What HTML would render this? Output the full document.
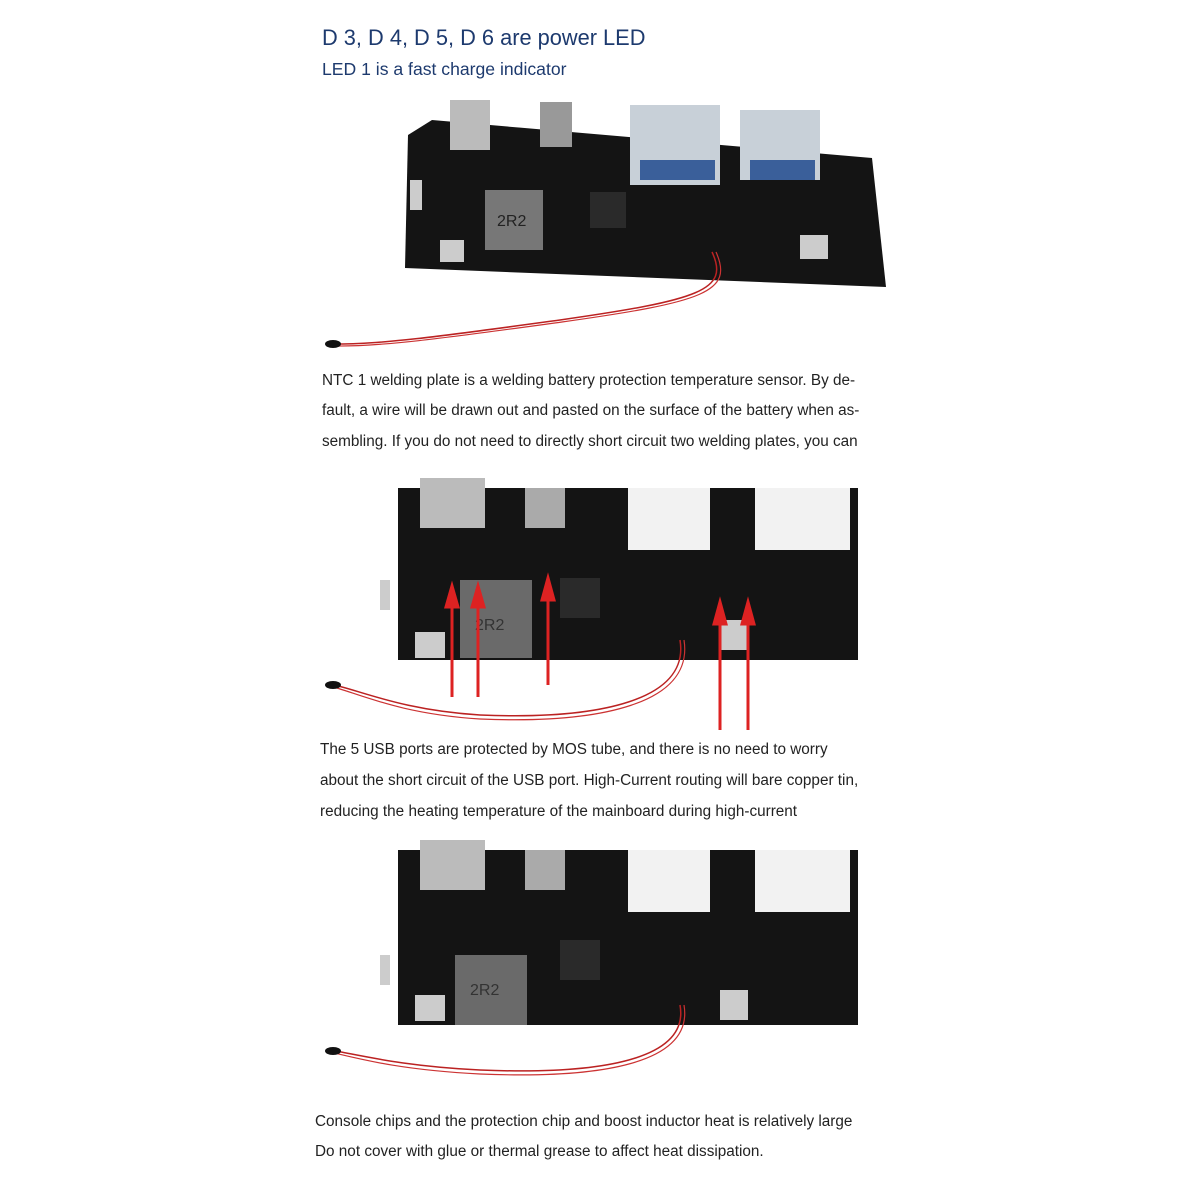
<!DOCTYPE html>
<html><head><meta charset="utf-8"><style>
body{margin:0;background:#fff;}
.wrap{position:relative;width:1200px;height:1200px;overflow:hidden;background:#fff;font-family:"Liberation Sans",sans-serif;}
.t{position:absolute;white-space:nowrap;color:#222;font-size:15.3px;}
</style></head><body><div class="wrap">
<div class="t" style="left:322px;top:25px;font-size:21.8px;color:#1d3a6e;">D 3, D 4, D 5, D 6 are power LED</div>
<div class="t" style="left:322px;top:59px;font-size:17.6px;color:#1d3a6e;">LED 1 is a fast charge indicator</div>

<svg width="1200" height="1200" style="position:absolute;left:0;top:0">
<polygon points="432,120 872,158 886,287 405,268 408,135" fill="#141414"/>
<rect x="450" y="100" width="40" height="50" fill="#bbb"/>
<rect x="540" y="102" width="32" height="45" fill="#999"/>
<rect x="630" y="105" width="90" height="80" fill="#c8d0d8"/>
<rect x="740" y="110" width="80" height="70" fill="#c8d0d8"/>
<rect x="640" y="160" width="75" height="20" fill="#3a5f9a"/>
<rect x="750" y="160" width="65" height="20" fill="#3a5f9a"/>
<rect x="485" y="190" width="58" height="60" fill="#777"/>
<text x="497" y="226" font-size="16" fill="#222" font-family="Liberation Sans">2R2</text>
<rect x="590" y="192" width="36" height="36" fill="#2a2a2a"/>
<rect x="410" y="180" width="12" height="30" fill="#ccc"/>
<rect x="440" y="240" width="24" height="22" fill="#ccc"/>
<rect x="800" y="235" width="28" height="24" fill="#ccc"/>
<path d="M712,252 C730,290 700,300 560,320 C450,335 380,345 332,344" stroke="#b22" stroke-width="1.5" fill="none"/>
<path d="M716,252 C734,292 704,302 562,322 C452,337 382,347 332,346" stroke="#c33" stroke-width="1.2" fill="none"/>
<ellipse cx="333" cy="344" rx="8" ry="4" fill="#111"/>

<rect x="398" y="488" width="460" height="172" fill="#141414"/>
<rect x="420" y="478" width="65" height="50" fill="#bbb"/>
<rect x="525" y="488" width="40" height="40" fill="#aaa"/>
<rect x="628" y="488" width="82" height="62" fill="#f2f2f2"/>
<rect x="755" y="488" width="95" height="62" fill="#f2f2f2"/>
<rect x="460" y="580" width="72" height="78" fill="#6a6a6a"/>
<text x="475" y="630" font-size="16" fill="#333" font-family="Liberation Sans">2R2</text>
<rect x="560" y="578" width="40" height="40" fill="#2a2a2a"/>
<rect x="415" y="632" width="30" height="26" fill="#ccc"/>
<rect x="720" y="620" width="28" height="30" fill="#ccc"/>
<rect x="380" y="580" width="10" height="30" fill="#ccc"/>
<g stroke="#d22" stroke-width="3" fill="#d22">
<line x1="452" y1="697" x2="452" y2="605"/><polygon points="446,607 458,607 452,586"/>
<line x1="478" y1="697" x2="478" y2="605"/><polygon points="472,607 484,607 478,586"/>
<line x1="548" y1="685" x2="548" y2="598"/><polygon points="542,600 554,600 548,578"/>
<line x1="720" y1="730" x2="720" y2="622"/><polygon points="714,624 726,624 720,602"/>
<line x1="748" y1="730" x2="748" y2="622"/><polygon points="742,624 754,624 748,602"/>
</g>
<path d="M680,640 C690,700 600,720 480,715 C400,710 360,690 330,684" stroke="#b22" stroke-width="1.5" fill="none"/>
<path d="M684,640 C694,704 600,724 480,719 C400,714 360,694 330,686" stroke="#c33" stroke-width="1.2" fill="none"/>
<ellipse cx="333" cy="685" rx="8" ry="4" fill="#111"/>

<rect x="398" y="850" width="460" height="175" fill="#141414"/>
<rect x="420" y="840" width="65" height="50" fill="#bbb"/>
<rect x="525" y="850" width="40" height="40" fill="#aaa"/>
<rect x="628" y="850" width="82" height="62" fill="#f2f2f2"/>
<rect x="755" y="850" width="95" height="62" fill="#f2f2f2"/>
<rect x="455" y="955" width="72" height="70" fill="#6a6a6a"/>
<text x="470" y="995" font-size="16" fill="#333" font-family="Liberation Sans">2R2</text>
<rect x="560" y="940" width="40" height="40" fill="#2a2a2a"/>
<rect x="415" y="995" width="30" height="26" fill="#ccc"/>
<rect x="720" y="990" width="28" height="30" fill="#ccc"/>
<rect x="380" y="955" width="10" height="30" fill="#ccc"/>
<path d="M680,1005 C690,1060 600,1075 480,1070 C400,1066 360,1055 330,1050" stroke="#b22" stroke-width="1.5" fill="none"/>
<path d="M684,1005 C694,1064 600,1079 480,1074 C400,1070 360,1059 330,1052" stroke="#c33" stroke-width="1.2" fill="none"/>
<ellipse cx="333" cy="1051" rx="8" ry="4" fill="#111"/>
</svg>

<div class="t" style="left:322px;top:372px;">NTC 1 welding plate is a welding battery protection temperature sensor. By de-</div>
<div class="t" style="left:322px;top:402px;">fault, a wire will be drawn out and pasted on the surface of the battery when as-</div>
<div class="t" style="left:322px;top:433px;">sembling. If you do not need to directly short circuit two welding plates, you can</div>
<div class="t" style="left:320px;top:741px;">The 5 USB ports are protected by MOS tube, and there is no need to worry</div>
<div class="t" style="left:320px;top:772px;">about the short circuit of the USB port. High-Current routing will bare copper tin,</div>
<div class="t" style="left:320px;top:803px;">reducing the heating temperature of the mainboard during high-current</div>
<div class="t" style="left:315px;top:1113px;">Console chips and the protection chip and boost inductor heat is relatively large</div>
<div class="t" style="left:315px;top:1143px;">Do not cover with glue or thermal grease to affect heat dissipation.</div>
</div></body></html>
